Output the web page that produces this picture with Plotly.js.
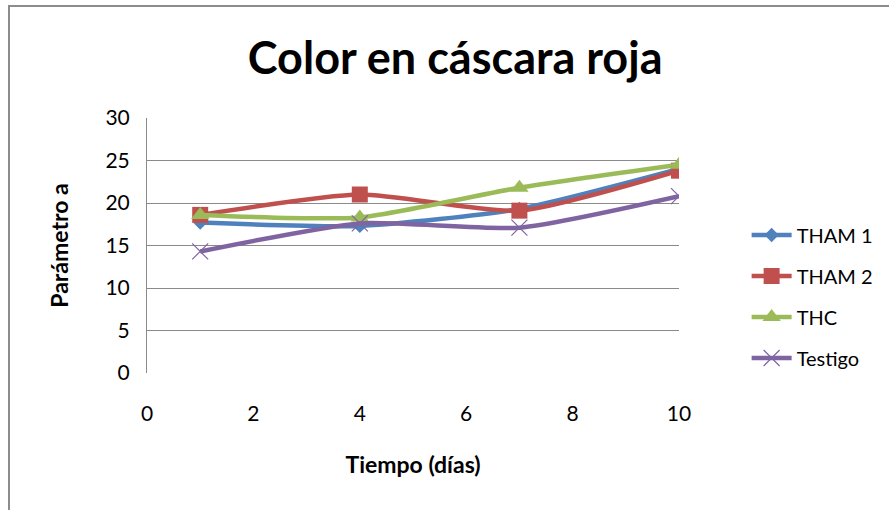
<!DOCTYPE html>
<html><head><meta charset="utf-8">
<script src="https://cdn.plot.ly/plotly-3.0.1.min.js"></script>
<style>
html,body{margin:0;padding:0;background:#fff;}
#frame{position:absolute;left:8px;top:5px;width:900px;height:520px;border-left:2px solid #8c8c8c;border-top:2px solid #8c8c8c;}
#chart{position:absolute;left:0;top:0;width:889px;height:510px;}
</style></head>
<body>
<div id="frame"></div>
<div id="chart"></div>
<script>
const days = [1, 4, 7, 10];
const seriesNames = ["THAM 1", "THAM 2", "THC", "Testigo"];
const tham1 = [17.7, 17.3, 19.3, 24.0];
const tham2 = [18.6, 21.0, 19.1, 23.8];
const thc = [18.6, 18.3, 21.8, 24.5];
const testigo = [14.3, 17.6, 17.1, 20.8];
const xTicks = [0, 2, 4, 6, 8, 10];
const yTicks = [0, 5, 10, 15, 20, 25, 30];

const colors = ["#4F81BD", "#C0504D", "#9BBB59", "#8064A2"];
const symbols = ["diamond", "square", "triangle-up", "x-thin-open"];
const sizes = [11, 16, 16, 16];
const data = [tham1, tham2, thc, testigo].map((v, i) => ({
  type: "scatter", mode: "lines+markers", x: days, y: v, name: seriesNames[i],
  legendgroup: "g" + i,
  line: {color: colors[i], width: 4.5, shape: "spline", smoothing: 0.6},
  marker: {symbol: symbols[i], size: sizes[i], color: colors[i],
    line: {color: colors[i], width: i === 3 ? 1.2 : 0}}
}));
const font = "Lato, 'Open Sans', sans-serif";
const layout = {
  width: 889, height: 510,
  margin: {l: 147, r: 209, t: 118, b: 137},
  paper_bgcolor: "rgba(0,0,0,0)", plot_bgcolor: "rgba(0,0,0,0)",
  font: {family: font, size: 21, color: "#000"},
  title: {text: "<b>Color en cáscara roja</b>", font: {family: font, size: 45, color: "#000"},
    x: 0.512, xanchor: "center", y: 0.885, yanchor: "middle"},
  xaxis: {range: [0, 10], tickvals: xTicks, showgrid: false, zeroline: false,
    showline: false, ticks: "outside", ticklen: 22, tickcolor: "rgba(0,0,0,0)",
    tickfont: {size: 21},
    title: {text: "<b>Tiempo (días)</b>", font: {size: 23}, standoff: 32}},
  yaxis: {range: [0, 30], tickvals: yTicks, showgrid: true, gridcolor: "#8a8a8a", gridwidth: 1,
    zeroline: false, showline: true, linecolor: "#8a8a8a", linewidth: 1,
    ticks: "outside", ticklen: 12, tickcolor: "rgba(0,0,0,0)",
    tickfont: {size: 21},
    title: {text: "<b>Parámetro a</b>", font: {size: 23}, standoff: 30}},
  legend: {x: 1.125, xanchor: "left", y: 0.3, yanchor: "middle",
    font: {size: 20}, tracegroupgap: 12, itemwidth: 40},
  showlegend: true
};
Plotly.newPlot("chart", data, layout, {displayModeBar: false, staticPlot: true});
</script>
</body></html>
